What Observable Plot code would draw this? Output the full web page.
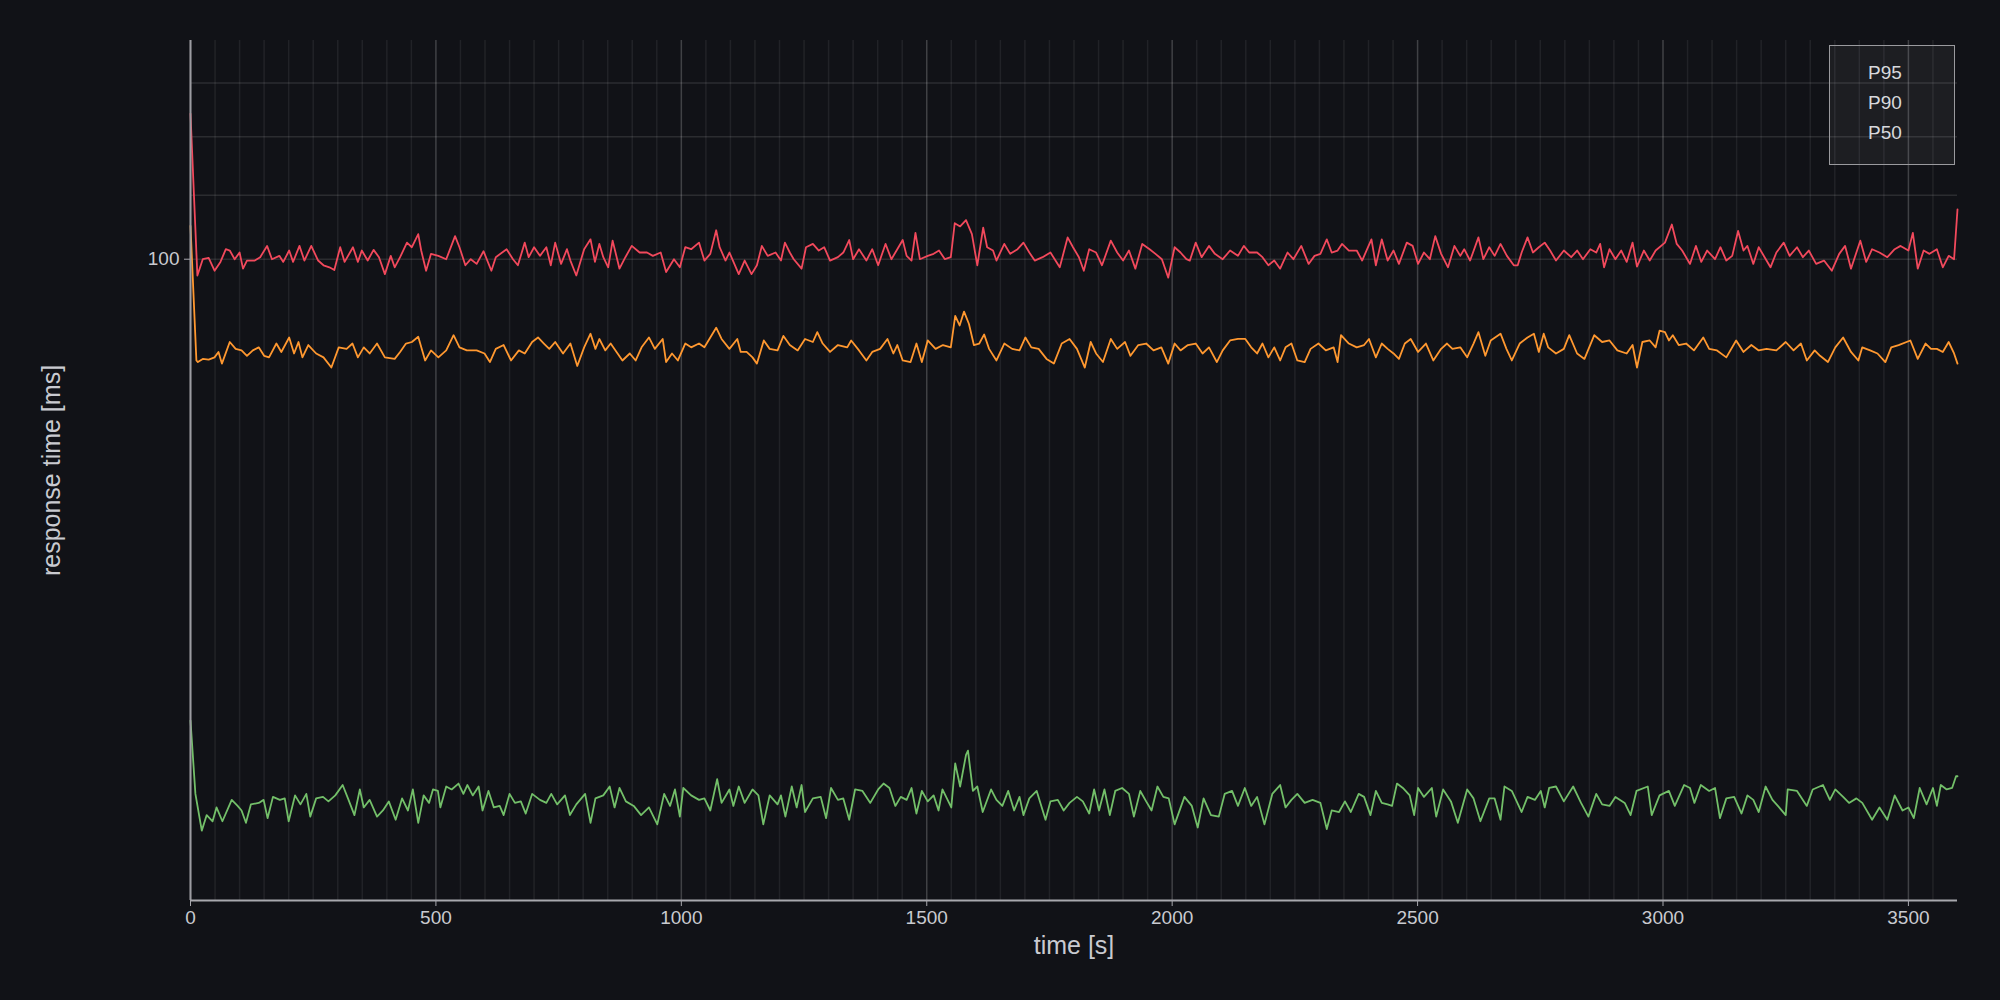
<!DOCTYPE html>
<html><head><meta charset="utf-8">
<script src="https://cdn.jsdelivr.net/npm/d3@7"></script>
<script src="https://cdn.jsdelivr.net/npm/@observablehq/plot@0.6"></script>
<style>
html,body{margin:0;padding:0;background:#111217;}
#wrap{position:relative;width:2000px;height:1000px;}
#wrap svg{display:block;}
#legend{position:absolute;left:1829px;top:45px;width:126px;height:120px;border:1.5px solid #9a9a9e;background:rgba(255,255,255,0.05);box-sizing:border-box;font-family:"Liberation Sans",Arial,sans-serif;font-size:19px;line-height:20px;color:#d8d9dd;}
#legend div{position:absolute;left:38px;}
</style></head><body><div id="wrap"></div>
<script>
// readings: [time in s, response time in ms]
const p95 = [[0,124.2],[14,97.6],[25,100.0],[37,100.2],[49,98.3],[61,99.6],[72,101.5],[80,101.3],[90,100.0],[100,101.0],[107,98.6],[115,99.8],[131,99.8],[142,100.3],[156,102.0],[166,100.0],[181,100.5],[189,99.6],[201,101.3],[209,99.6],[222,102.0],[232,99.8],[246,102.0],[260,99.8],[271,99.1],[283,98.8],[293,98.4],[305,101.8],[314,99.6],[331,101.8],[341,99.6],[349,101.3],[361,99.8],[373,101.4],[384,100.3],[396,97.8],[408,100.5],[416,98.8],[427,100.3],[441,102.5],[451,101.8],[464,103.8],[470,101.3],[480,98.3],[490,100.8],[505,100.5],[521,100.0],[539,103.5],[548,101.8],[560,99.1],[571,100.0],[583,99.3],[597,101.2],[613,98.3],[622,100.3],[644,101.5],[657,100.0],[667,99.1],[681,102.5],[689,100.3],[700,101.8],[712,100.5],[725,101.8],[734,99.1],[743,102.5],[755,99.3],[767,101.5],[774,99.8],[786,97.6],[802,101.5],[815,103.0],[824,99.6],[833,102.3],[841,100.3],[851,98.8],[860,102.8],[874,98.6],[886,100.3],[899,102.0],[915,101.0],[930,101.0],[942,100.5],[958,101.0],[969,98.1],[985,100.0],[997,98.8],[1008,101.8],[1020,101.5],[1036,102.5],[1047,99.8],[1059,100.8],[1071,104.4],[1078,101.8],[1090,99.8],[1098,101.0],[1117,97.8],[1129,99.8],[1143,97.8],[1154,99.1],[1164,102.0],[1176,100.5],[1192,101.0],[1203,99.8],[1211,102.5],[1221,101.0],[1229,100.0],[1245,98.6],[1254,101.8],[1268,102.3],[1280,101.3],[1291,101.8],[1303,99.8],[1319,100.3],[1330,101.0],[1342,102.9],[1350,100.0],[1362,101.5],[1377,99.8],[1389,101.5],[1401,99.1],[1416,102.3],[1428,100.0],[1440,101.5],[1451,102.9],[1459,100.5],[1469,99.8],[1477,104.0],[1486,100.0],[1502,100.5],[1514,100.8],[1525,101.3],[1537,100.0],[1549,100.3],[1557,105.5],[1568,105.0],[1580,106.0],[1592,103.8],[1603,99.1],[1615,104.8],[1623,101.8],[1635,101.3],[1642,99.8],[1658,102.3],[1670,100.8],[1685,101.5],[1697,102.5],[1709,101.0],[1720,99.8],[1736,100.3],[1752,101.0],[1771,98.8],[1787,103.3],[1798,101.8],[1810,100.3],[1820,98.3],[1831,101.5],[1845,101.0],[1857,99.1],[1875,102.8],[1888,101.0],[1900,99.8],[1912,101.3],[1925,98.6],[1939,102.3],[1954,101.5],[1966,100.8],[1979,100.0],[1992,97.3],[2005,101.8],[2017,101.0],[2029,100.0],[2036,99.8],[2048,102.5],[2060,100.3],[2075,102.0],[2087,100.8],[2103,100.0],[2118,101.3],[2134,100.5],[2146,102.0],[2157,101.0],[2173,101.0],[2184,100.3],[2196,99.1],[2208,99.8],[2220,98.6],[2235,101.0],[2247,100.0],[2263,102.0],[2278,99.3],[2290,100.5],[2302,100.8],[2315,103.0],[2325,101.0],[2337,101.3],[2346,102.3],[2360,101.3],[2376,101.3],[2387,99.8],[2399,101.8],[2406,103.0],[2415,99.1],[2427,103.0],[2439,99.8],[2451,101.3],[2462,99.3],[2478,102.5],[2490,102.0],[2501,99.3],[2513,101.0],[2525,100.0],[2536,103.5],[2548,100.8],[2562,98.8],[2575,102.0],[2587,100.5],[2595,101.5],[2607,99.8],[2624,103.3],[2634,100.0],[2646,101.8],[2657,100.5],[2669,102.3],[2682,100.5],[2696,99.1],[2704,99.1],[2712,101.0],[2724,103.3],[2735,101.0],[2747,101.8],[2759,102.5],[2770,101.3],[2782,99.8],[2798,101.3],[2813,100.3],[2825,101.3],[2837,100.0],[2852,101.5],[2864,101.0],[2872,102.3],[2880,98.8],[2891,101.5],[2903,100.0],[2915,101.3],[2926,99.6],[2938,102.5],[2947,98.9],[2961,101.3],[2973,99.8],[2985,101.3],[3004,102.5],[3018,105.3],[3028,102.3],[3039,101.3],[3055,99.3],[3067,102.0],[3078,99.6],[3090,101.3],[3106,100.0],[3117,101.8],[3129,99.8],[3141,100.5],[3153,104.3],[3164,101.3],[3172,102.0],[3184,99.3],[3195,101.8],[3207,100.3],[3219,98.8],[3231,101.0],[3246,102.5],[3258,100.5],[3273,101.8],[3285,100.3],[3297,101.3],[3312,99.3],[3328,99.8],[3344,98.3],[3359,100.8],[3371,102.0],[3383,98.6],[3402,102.8],[3414,99.6],[3426,101.5],[3441,101.0],[3457,100.3],[3472,101.5],[3484,102.0],[3500,101.3],[3509,104.0],[3519,98.6],[3531,101.3],[3543,100.8],[3558,101.5],[3570,98.8],[3582,100.5],[3593,100.0],[3600,107.7]];
const p90 = [[0,105.1],[12,86.0],[15,85.8],[25,86.2],[37,86.1],[49,86.4],[57,87.1],[64,85.6],[80,88.4],[92,87.5],[104,87.3],[115,86.6],[127,87.3],[139,87.7],[150,86.6],[160,86.4],[175,88.2],[185,87.1],[201,89.0],[211,86.9],[220,88.4],[228,86.4],[240,88.0],[256,86.9],[271,86.4],[287,85.1],[302,87.7],[318,87.5],[330,88.2],[341,86.4],[353,87.7],[365,86.9],[380,88.2],[396,86.4],[416,86.2],[427,87.1],[439,88.2],[451,88.4],[464,89.1],[478,86.0],[490,87.3],[505,86.4],[521,87.3],[536,89.3],[548,87.7],[563,87.3],[583,87.3],[599,86.9],[610,85.8],[622,87.5],[638,88.0],[653,86.0],[669,87.3],[681,86.9],[696,88.4],[708,89.0],[720,88.2],[731,87.5],[743,88.4],[759,86.9],[774,88.2],[788,85.3],[802,87.7],[815,89.5],[825,87.5],[833,88.8],[845,87.3],[856,88.2],[868,87.1],[880,86.0],[895,86.9],[907,86.0],[919,87.7],[934,89.0],[946,87.5],[962,88.8],[969,85.8],[981,86.9],[993,86.0],[1008,88.2],[1020,87.7],[1036,88.2],[1047,87.7],[1071,90.3],[1082,88.8],[1098,87.5],[1114,88.8],[1121,87.1],[1133,87.1],[1145,86.4],[1154,85.6],[1168,88.6],[1180,87.5],[1196,87.3],[1208,89.2],[1221,88.0],[1237,87.3],[1252,88.8],[1268,88.4],[1277,89.7],[1288,88.2],[1303,87.1],[1319,88.0],[1338,87.7],[1346,88.6],[1362,87.3],[1377,86.0],[1389,87.1],[1405,87.5],[1420,88.8],[1432,86.9],[1440,88.0],[1451,86.0],[1467,85.8],[1479,88.2],[1490,85.8],[1502,88.6],[1518,87.5],[1533,88.0],[1549,87.7],[1558,91.9],[1567,90.6],[1576,92.5],[1586,90.8],[1596,88.0],[1607,88.2],[1617,89.4],[1627,87.5],[1642,86.0],[1658,88.2],[1674,87.5],[1689,87.3],[1701,89.0],[1713,87.7],[1728,87.5],[1744,86.2],[1759,85.6],[1775,88.2],[1791,88.8],[1806,87.5],[1822,85.1],[1834,88.4],[1845,86.9],[1859,85.8],[1875,88.8],[1888,87.5],[1904,88.4],[1915,86.6],[1931,88.0],[1947,88.2],[1962,87.3],[1978,87.7],[1992,85.6],[2005,88.2],[2017,87.3],[2032,88.0],[2048,88.2],[2062,86.9],[2075,87.7],[2091,85.8],[2103,87.3],[2118,88.6],[2134,88.8],[2149,88.8],[2161,87.7],[2173,86.9],[2184,88.2],[2196,86.4],[2208,87.7],[2220,86.0],[2231,87.7],[2243,88.2],[2255,86.0],[2270,85.8],[2282,87.5],[2298,88.2],[2313,87.3],[2329,87.7],[2337,85.8],[2344,89.3],[2360,88.2],[2376,87.7],[2391,88.0],[2401,88.8],[2415,86.4],[2427,88.2],[2439,87.5],[2451,86.9],[2462,86.2],[2474,88.2],[2486,88.8],[2501,87.1],[2517,88.2],[2532,86.0],[2548,87.5],[2560,88.2],[2571,87.5],[2587,87.7],[2601,86.4],[2614,88.2],[2624,89.7],[2638,86.6],[2649,88.6],[2669,89.5],[2681,87.5],[2692,86.0],[2708,88.2],[2724,89.0],[2737,89.5],[2747,87.1],[2757,89.5],[2766,87.7],[2782,86.9],[2798,87.5],[2809,89.3],[2825,86.9],[2840,86.2],[2860,89.3],[2876,88.4],[2891,88.6],[2907,87.3],[2926,86.9],[2938,88.0],[2947,85.1],[2958,88.4],[2973,88.6],[2985,87.7],[2993,89.9],[3004,89.7],[3012,88.6],[3020,89.3],[3032,88.0],[3047,88.2],[3063,87.3],[3082,89.0],[3094,87.5],[3110,87.3],[3129,86.4],[3149,88.6],[3164,87.1],[3180,88.0],[3195,87.3],[3211,87.5],[3231,87.3],[3250,88.4],[3266,87.3],[3281,88.2],[3293,86.0],[3309,87.3],[3320,86.6],[3336,85.8],[3351,87.7],[3367,89.0],[3383,87.1],[3398,86.0],[3406,87.7],[3422,87.3],[3437,86.9],[3453,85.8],[3465,87.7],[3480,88.0],[3504,88.6],[3519,86.2],[3535,88.2],[3546,87.5],[3558,87.5],[3570,87.1],[3582,88.4],[3593,86.9],[3600,85.6]];
const p50 = [[0,50.3],[10,45.1],[23,42.7],[33,43.7],[45,43.3],[53,44.2],[65,43.3],[84,44.7],[96,44.3],[104,44.0],[113,43.2],[123,44.4],[139,44.5],[149,44.7],[157,43.5],[168,44.9],[182,44.7],[192,44.8],[200,43.3],[213,45.0],[224,44.4],[236,45.1],[244,43.6],[256,44.8],[270,44.9],[281,44.6],[295,45.0],[310,45.7],[322,44.7],[334,43.7],[345,45.4],[353,44.2],[365,44.7],[380,43.6],[392,44.0],[404,44.6],[418,43.4],[431,44.8],[443,44.0],[453,45.4],[464,43.2],[475,45.0],[486,44.5],[494,45.4],[504,45.3],[509,44.2],[521,45.6],[532,45.4],[546,45.8],[556,45.1],[564,45.7],[575,45.0],[587,45.6],[595,44.0],[607,45.3],[618,44.2],[630,44.3],[638,43.7],[650,45.1],[661,44.5],[673,44.6],[683,43.8],[696,45.1],[712,44.7],[725,44.5],[735,45.1],[747,44.4],[763,45.0],[773,43.7],[786,44.4],[804,45.1],[815,43.2],[825,44.8],[841,45.0],[854,45.6],[864,44.2],[874,45.5],[887,44.6],[903,44.3],[918,43.7],[934,44.2],[951,43.1],[965,45.1],[977,44.3],[987,45.4],[997,43.6],[1004,45.5],[1020,45.0],[1036,44.7],[1047,44.8],[1059,44.0],[1073,46.1],[1082,44.5],[1098,45.4],[1106,44.3],[1117,45.6],[1129,44.5],[1145,45.4],[1157,45.0],[1167,43.1],[1180,45.0],[1196,44.4],[1203,45.0],[1212,43.6],[1225,45.6],[1235,44.2],[1245,45.7],[1252,43.9],[1268,44.8],[1284,44.9],[1295,43.5],[1305,45.5],[1319,44.7],[1330,44.8],[1342,43.4],[1354,45.4],[1369,45.3],[1385,44.5],[1401,45.4],[1412,45.8],[1424,45.5],[1436,44.3],[1447,44.9],[1459,44.7],[1469,45.5],[1479,43.8],[1490,45.3],[1502,44.6],[1514,45.0],[1524,44.0],[1532,45.4],[1541,44.8],[1550,44.2],[1558,47.2],[1568,45.6],[1580,47.8],[1584,48.1],[1594,45.3],[1603,45.6],[1614,43.9],[1631,45.4],[1642,44.7],[1654,44.3],[1666,45.3],[1678,44.0],[1689,44.9],[1697,43.7],[1709,44.8],[1724,45.3],[1742,43.4],[1752,44.6],[1767,44.7],[1779,44.0],[1791,44.5],[1806,44.9],[1818,44.6],[1831,43.8],[1841,45.4],[1851,44.0],[1862,45.4],[1873,43.7],[1884,45.3],[1898,45.5],[1912,45.1],[1922,43.6],[1935,45.3],[1947,44.6],[1958,44.0],[1970,45.6],[1982,44.9],[1993,44.8],[2005,43.1],[2025,44.9],[2040,44.3],[2052,42.9],[2064,44.8],[2079,43.7],[2095,43.6],[2107,45.1],[2122,45.3],[2134,44.3],[2148,45.5],[2161,44.3],[2173,44.9],[2188,43.1],[2204,45.1],[2220,45.7],[2231,44.2],[2243,44.7],[2255,45.1],[2270,44.5],[2286,44.7],[2302,44.5],[2315,42.8],[2325,44.0],[2340,43.9],[2352,44.6],[2364,43.9],[2380,45.1],[2391,44.9],[2404,43.7],[2415,45.3],[2427,44.5],[2439,44.4],[2448,44.3],[2458,45.8],[2470,45.5],[2484,45.0],[2493,43.7],[2501,45.5],[2513,44.9],[2529,45.5],[2538,43.6],[2552,45.4],[2568,44.6],[2582,43.2],[2601,45.4],[2614,44.8],[2628,43.3],[2646,44.8],[2657,44.8],[2669,43.4],[2677,45.6],[2692,45.3],[2712,43.9],[2724,44.9],[2739,44.7],[2751,45.3],[2759,44.2],[2768,45.5],[2782,45.6],[2798,44.6],[2817,45.6],[2833,44.5],[2848,43.6],[2864,45.1],[2876,44.4],[2891,44.3],[2903,44.9],[2922,44.5],[2934,43.7],[2946,45.3],[2969,45.6],[2977,43.7],[2993,45.0],[3012,45.3],[3024,44.3],[3043,45.7],[3055,45.5],[3064,44.5],[3077,45.7],[3094,45.3],[3106,45.5],[3116,43.5],[3129,44.8],[3145,44.9],[3160,43.8],[3172,45.0],[3184,44.7],[3195,43.9],[3209,45.6],[3223,44.7],[3234,44.3],[3250,43.7],[3254,45.4],[3273,45.3],[3293,44.3],[3305,45.4],[3326,45.7],[3340,44.7],[3351,45.4],[3367,44.9],[3379,44.5],[3394,44.8],[3406,44.5],[3426,43.4],[3441,44.2],[3457,43.4],[3472,45.0],[3488,44.0],[3500,44.2],[3511,43.5],[3523,45.5],[3537,44.4],[3550,45.5],[3558,44.3],[3566,45.7],[3578,45.4],[3589,45.5],[3597,46.3],[3600,46.3]];

const seriesNames = ["P95", "P90", "P50"];
const seriesColors = ["#f2495c", "#ff9830", "#73bf69"];
const xTickValues = [0, 500, 1000, 1500, 2000, 2500, 3000, 3500];
const xMinorGrid = d3.range(50, 3600, 50).filter(t => t % 500 !== 0);
const yTickValues = [100];
const yGridValues = [100, 110, 120, 130];
const xDomain = [0, 3600];
const yDomain = [38.48, 138.5];

const rows = [p95, p90, p50].flatMap((arr, i) => arr.map(([t, ms]) => ({series: seriesNames[i], t, ms})));

const font = "'Liberation Sans', Arial, Helvetica, sans-serif";
const textColor = "#c9cad0";

const chart = Plot.plot({
  width: 2000, height: 1000,
  marginLeft: 190, marginRight: 43, marginTop: 40, marginBottom: 100,
  style: {background: "#111217", color: textColor, fontFamily: font, fontSize: "19px", overflow: "visible"},
  x: {type: "linear", domain: xDomain},
  y: {type: "log", domain: yDomain},
  color: {domain: seriesNames, range: seriesColors},
  marks: [
    Plot.ruleX(xMinorGrid, {stroke: "#ffffff", strokeOpacity: 0.07, strokeWidth: 1.5}),
    Plot.ruleX(xTickValues, {stroke: "#ffffff", strokeOpacity: 0.2, strokeWidth: 1.5}),
    Plot.ruleY(yGridValues, {stroke: "#ffffff", strokeOpacity: 0.11, strokeWidth: 1.5}),
    Plot.line(rows, {x: "t", y: "ms", z: "series", stroke: "series", strokeWidth: 1.8, curve: "linear"}),
    Plot.ruleX([xDomain[0]], {stroke: "#9c9ca2", strokeWidth: 2}),
    Plot.ruleY([yDomain[0]], {stroke: "#a8a8ae", strokeWidth: 2}),
    Plot.axisX({ticks: xTickValues, tickSize: 6, tickPadding: 4, label: null, fontSize: 19, stroke: "#a8a8ae", fill: textColor, tickFormat: d => String(d)}),
    Plot.axisY({ticks: yTickValues, tickSize: 6, tickPadding: 5, label: null, fontSize: 19, stroke: "#a8a8ae", fill: textColor, tickFormat: d => String(d)}),
    Plot.text(["time [s]"], {text: d => d, frameAnchor: "bottom", dy: 53, fontSize: 25, fill: textColor, textAnchor: "middle"}),
    Plot.text(["response time [ms]"], {text: d => d, frameAnchor: "left", dx: -139, rotate: -90, fontSize: 25, fill: textColor, textAnchor: "middle"})
  ]
});
const wrap = document.getElementById("wrap");
wrap.appendChild(chart);
const legend = document.createElement("div");
legend.id = "legend";
seriesNames.forEach((name, i) => {
  const item = document.createElement("div");
  item.textContent = name;
  item.style.top = (17 + i * 30) + "px";
  legend.appendChild(item);
});
wrap.appendChild(legend);
</script>
</body></html>
